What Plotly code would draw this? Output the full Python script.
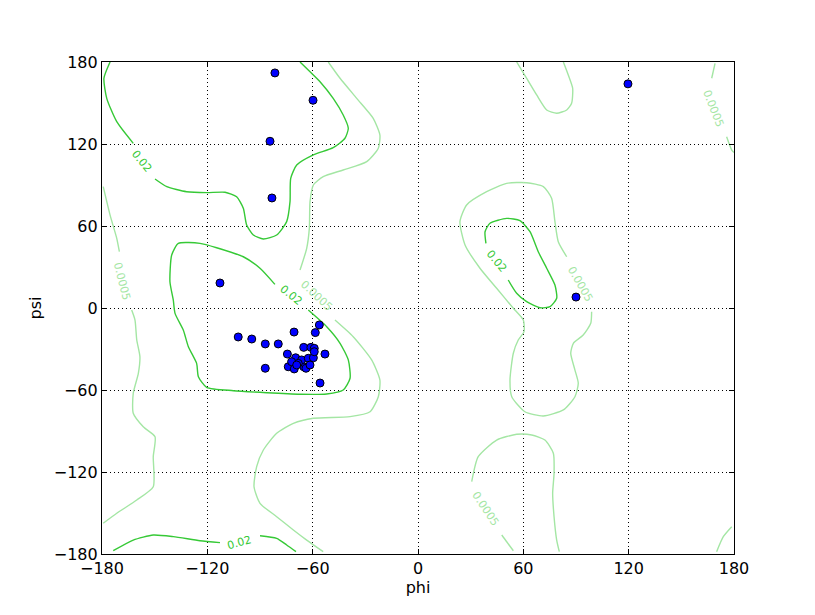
import plotly.graph_objects as go

# ---------------- data ----------------
tick_vals = [-180, -120, -60, 0, 60, 120, 180]
tick_text = ["\u2212180", "\u2212120", "\u221260", "0", "60", "120", "180"]

phi_points = [-81.5, -59.8, -84.3, -83.2, 119.6, 90.0, -112.8,
              -102.4, -94.7, -87.0, -79.6, -70.6, -56.2, -58.5, -87.0, -55.8,
              -53.0, -65.1, -61.0, -59.1, -74.4, -73.9, -70.5, -65.1, -63.8,
              -69.7, -66.3, -62.5, -59.6, -59.1, -68.2, -72.0, -61.5, -69.1]
psi_points = [172.0, 152.0, 122.0, 80.5, 164.0, 8.0, 18.3,
              -21.2, -22.7, -26.3, -26.3, -17.6, -12.4, -18.0, -44.1, -54.9,
              -33.7, -28.8, -28.8, -29.5, -33.7, -43.0, -44.6, -43.0, -44.1,
              -36.4, -38.0, -36.8, -36.4, -32.0, -40.5, -39.3, -41.7, -41.7]

# contour level 0.02 (dark green) traced segments
c02_a_phi = [-175.4, -178.9, -177.3, -171.6, -162.2]
c02_a_psi = [180.0, 168.1, 153.4, 136.3, 120.5]
c02_b_phi = [-149.8, -143.1, -131.8, -120.4, -109.9, -103.3, -99.5, -97.6, -93.8, -88.1,
             -80.5, -74.8, -72.9, -72.5, -69.1, -59.6, -48.3, -41.6, -39.7, -42.6,
             -48.3, -55.8, -61.5, -67.2]
c02_b_psi = [94.4, 88.8, 85.1, 84.4, 84.7, 81.4, 73.0, 60.7, 53.4, 50.5,
             53.4, 63.2, 77.8, 94.9, 104.6, 112.0, 117.3, 124.2, 131.5, 141.2,
             153.4, 165.6, 172.9, 180.0]
c02_c_phi = [-173.6, -162.2, -150.8, -139.4, -124.2, -112.8]
c02_c_psi = [-177.6, -169.8, -166.1, -167.3, -170.3, -171.7]
c02_d_phi = [-90.0, -80.5, -74.8, -69.5]
c02_d_psi = [-166.6, -168.5, -173.4, -178.3]
c02_e_phi = [-81.5, -90.0, -99.5, -114.7, -124.2, -136.5, -140.3, -141.3, -139.4, -138.4,
             -133.7, -130.8, -126.1, -125.1, -120.4, -105.2, -86.2, -67.2, -52.0, -42.6,
             -38.7, -39.7, -44.4, -52.0, -62.5]
c02_e_psi = [17.3, 29.1, 37.5, 44.1, 47.3, 47.3, 38.8, 19.2, 5.9, -3.9,
             -16.1, -28.3, -40.5, -50.3, -58.0, -60.5, -62.0, -63.1, -62.9, -60.0,
             -51.4, -38.0, -25.8, -13.7, -1.5]
c02_f_phi = [38.7, 38.2, 41.0, 50.5, 58.1, 63.8, 68.5, 73.3, 78.0, 79.0,
             75.2, 69.5, 61.9, 56.2, 51.4]
c02_f_psi = [47.3, 55.8, 62.0, 65.6, 63.9, 55.8, 41.2, 29.1, 16.8, 7.1,
             1.0, 0.2, 4.6, 10.8, 20.5]

# contour level 0.0005 (light green) traced segments
c0005_a_phi = [-51.1, -44.4, -34.9, -25.5, -21.7, -22.6, -29.2, -42.6, -54.0, -59.6,
               -61.5, -61.9, -63.4, -67.2]
c0005_a_psi = [180.0, 168.1, 153.4, 138.8, 126.6, 116.9, 107.1, 101.0, 96.1, 90.0,
               77.8, 58.3, 43.7, 27.8]
c0005_b_phi = [-47.3, -36.9, -26.4, -21.7, -22.6, -27.3, -38.7, -59.6, -71.0, -80.5,
               -88.1, -91.9, -93.4, -90.0, -80.5, -71.0, -63.4, -54.0]
c0005_b_psi = [-8.8, -21.0, -38.0, -52.7, -64.9, -75.9, -79.5, -80.7, -84.4, -91.7,
               -103.9, -116.1, -130.8, -142.9, -152.7, -162.4, -169.8, -178.3]
c0005_c_phi = [-179.3, -175.4, -171.6, -170.1]
c0005_c_psi = [88.8, 68.0, 51.0, 41.2]
c0005_d_phi = [-163.1, -161.2, -160.2, -158.4, -159.3, -162.2, -162.2, -156.5, -149.8,
               -150.8, -150.8, -160.2, -171.6, -179.3]
c0005_d_psi = [-1.5, -8.8, -23.4, -35.6, -47.8, -62.4, -77.0, -86.9, -94.2,
               -108.8, -130.8, -140.5, -150.2, -157.5]
c0005_e_phi = [56.2, 61.9, 67.6, 73.3, 79.0, 84.7, 87.5, 88.1, 85.6, 82.8]
c0005_e_psi = [180.0, 168.1, 155.9, 144.9, 142.5, 144.9, 149.8, 160.8, 170.5, 180.0]
c0005_f_phi = [80.5, 79.0, 77.5, 76.7, 77.5, 77.1, 72.3, 64.8, 56.2, 44.8, 34.3, 30.6]
c0005_f_psi = [-178.3, -169.8, -152.7, -135.6, -121.0, -106.3, -96.6, -92.9, -92.4, -96.6,
               -108.8, -127.1]
c0005_g_phi = [47.7, 54.3]
c0005_g_psi = [-166.1, -177.6]
c0005_h_phi = [84.7, 79.9, 78.0, 76.1, 71.4, 61.9, 50.5, 39.1, 27.7, 23.9, 26.8, 35.3,
               44.8, 54.3, 60.0, 60.4, 57.1, 54.3, 52.4, 53.4, 60.9, 71.4, 82.8, 89.4,
               91.3, 89.4, 87.0, 88.5, 94.1, 98.4, 98.9]
c0005_h_psi = [37.5, 48.5, 63.2, 80.3, 88.8, 91.7, 91.2, 85.1, 75.4, 63.2, 46.1, 29.1,
               14.4, -0.2, -8.8, -17.3, -23.4, -33.1, -52.7, -64.9, -75.9, -79.0, -74.6, -64.9,
               -55.1, -45.4, -33.1, -25.8, -19.8, -11.2, -2.7]
c0005_i_phi = [169.2, 167.3]
c0005_i_psi = [179.0, 168.1]
c0005_j_phi = [175.8, 178.7, 180.0]
c0005_j_psi = [125.3, 115.6, 113.8]
c0005_k_phi = [178.7, 173.9, 170.1]
c0005_k_psi = [-160.0, -167.3, -178.3]

# contour labels: text, phi, psi, angle
label_text = ["0.02", "0.02", "0.02", "0.02",
              "0.0005", "0.0005", "0.0005", "0.0005", "0.0005"]
label_phi = [-157.4, -72.0, -101.4, 44.8, -58.1, -168.8, 92.6, 168.6, 38.7]
label_psi = [107.0, 9.5, -171.7, 33.9, 8.8, 19.2, 17.4, 145.6, -147.3]
label_angle = [51, 39, -16, 50, 43, 76, 60, 69, 56]
label_level = ["dark", "dark", "dark", "dark", "light", "light", "light", "light", "light"]

DARK = "#36c936"
LIGHT = "#a4e6a4"

fig = go.Figure()

dark_segments = [(c02_a_phi, c02_a_psi), (c02_b_phi, c02_b_psi), (c02_c_phi, c02_c_psi),
                 (c02_d_phi, c02_d_psi), (c02_e_phi, c02_e_psi), (c02_f_phi, c02_f_psi)]
light_segments = [(c0005_a_phi, c0005_a_psi), (c0005_b_phi, c0005_b_psi),
                  (c0005_c_phi, c0005_c_psi), (c0005_d_phi, c0005_d_psi),
                  (c0005_e_phi, c0005_e_psi), (c0005_f_phi, c0005_f_psi),
                  (c0005_g_phi, c0005_g_psi), (c0005_h_phi, c0005_h_psi),
                  (c0005_i_phi, c0005_i_psi), (c0005_j_phi, c0005_j_psi),
                  (c0005_k_phi, c0005_k_psi)]

for xs, ys in light_segments:
    fig.add_trace(go.Scatter(x=xs, y=ys, mode="lines", line=dict(color=LIGHT, width=1.4, shape="spline", smoothing=0.6),
                             showlegend=False, hoverinfo="skip"))
for xs, ys in dark_segments:
    fig.add_trace(go.Scatter(x=xs, y=ys, mode="lines", line=dict(color=DARK, width=1.4, shape="spline", smoothing=0.6),
                             showlegend=False, hoverinfo="skip"))

fig.add_trace(go.Scatter(x=phi_points, y=psi_points, mode="markers",
                         marker=dict(color="#0000ff", size=8, line=dict(color="black", width=1)),
                         showlegend=False))

for t, x, y, a, lv in zip(label_text, label_phi, label_psi, label_angle, label_level):
    fig.add_annotation(x=x, y=y, text=t, showarrow=False, textangle=a,
                       font=dict(family="DejaVu Sans", size=11, color=DARK if lv == "dark" else LIGHT))

axis_common = dict(
    range=[-180, 180], tickvals=tick_vals, ticktext=tick_text,
    showgrid=True, gridcolor="black", griddash="1px,3px", gridwidth=1,
    zeroline=False, showline=True, linecolor="black", linewidth=1.2,
    mirror="ticks", ticks="inside", ticklen=5, tickcolor="black",
    tickfont=dict(family="DejaVu Sans", size=16, color="black"),
)

fig.update_xaxes(**axis_common, title=dict(text="phi", font=dict(family="DejaVu Sans", size=16, color="black"), standoff=4))
fig.update_yaxes(**axis_common, title=dict(text="psi", font=dict(family="DejaVu Sans", size=16, color="black"), standoff=8))

fig.update_layout(
    width=807, height=607,
    margin=dict(l=94, r=81, t=54, b=61),
    paper_bgcolor="white", plot_bgcolor="white",
    font=dict(family="DejaVu Sans", color="black"),
)

fig.write_html("out.html")
